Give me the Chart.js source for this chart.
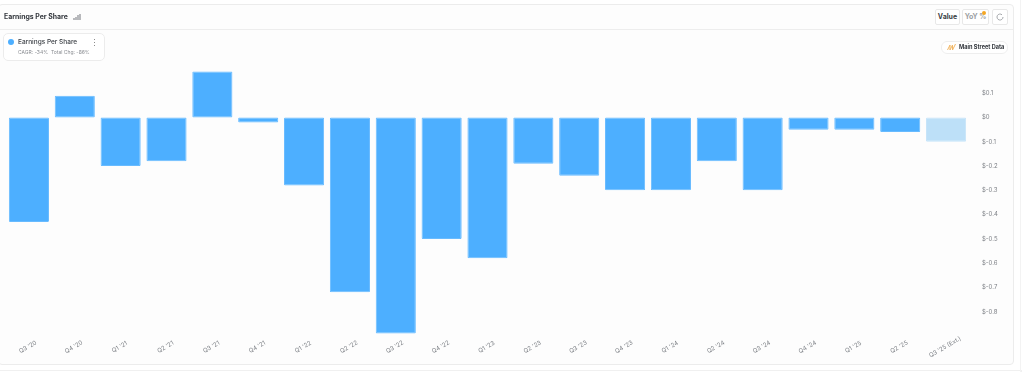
<!DOCTYPE html>
<html lang="en">
<head>
<meta charset="utf-8" />
<title>Earnings Per Share</title>
<script src="https://cdn.jsdelivr.net/npm/chart.js@4"></script>
<style>
    html, body { margin: 0; padding: 0; background: #fff; }
    body { width: 1024px; height: 372px; overflow: hidden; position: relative; font-family: Inter, "Liberation Sans", sans-serif; }
    #card { position: absolute; left: -2px; top: 4px; width: 1014px; height: 359px; background: #fdfdfd; border: 1px solid #ececec; border-radius: 4px; }
    #divider { position: absolute; left: 0; top: 29px; width: 1013px; height: 1px; background: #ededed; }
    #next { position: absolute; left: -2px; top: 370px; width: 1022px; height: 10px; border: 1px solid #f0f0f0; }
    #side { position: absolute; left: 1020px; top: 0; width: 1px; height: 372px; background: #f3f3f3; }
    #canvas { position: absolute; left: 0; top: 0; }
    .abs { position: absolute; white-space: nowrap; }
    #title { left: 4px; top: 12px; font-size: 6.9px; font-weight: 700; color: #33373d; }
    #titleIcon { left: 73px; top: 13px; }
    #legend { left: 3px; top: 33px; width: 100px; height: 26px; background: #fff; border: 1px solid #ececec; border-radius: 5px; }
    #dot { left: 4px; top: 5px; width: 6px; height: 6px; border-radius: 50%; background: #4dafff; }
    #legName { left: 14px; top: 4px; font-size: 6.5px; font-weight: 500; color: #3c4046; }
    #legSub { left: 14px; top: 15px; font-size: 5px; color: #8a8d92; }
    .menuDot { left: 90px; width: 1.4px; height: 1.4px; border-radius: 50%; background: #666; }
    .btn { top: 9px; height: 14px; line-height: 14px; text-align: center; border: 1px solid #e8e8e8; border-radius: 2px; font-size: 7px; font-weight: 700; background: #fff; }
    #btnValue { left: 935px; width: 23px; color: #3b3f45; }
    #btnYoy { left: 962px; width: 25px; color: #9a9da1; }
    #btnRef { left: 992px; width: 14px; }
    #yoyDot { left: 982px; top: 11px; width: 4px; height: 4px; border-radius: 50%; background: #f5a623; }
    #refIcon { left: 995px; top: 12px; }
    #badge { left: 941px; top: 41px; width: 65px; height: 11px; line-height: 11px; border: 1px solid #eeeeee; border-radius: 6px; background: #fff; font-size: 5.6px; font-weight: 700; color: #33373d; text-indent: 17px; }
    #badgeIcon { left: 947px; top: 43px; }
</style>
</head>
<body>
<div id="card"></div>
<div id="divider"></div>
<div id="next"></div>
<div id="side"></div>
<canvas id="canvas" width="1024" height="372"></canvas>
<div class="abs" id="title">Earnings Per Share</div>
<svg class="abs" id="titleIcon" width="8" height="8" viewBox="0 0 8 8"><path d="M1 7V5M3 7V4M5 7V2M7 7V1" stroke="#8a8d92" stroke-width="1.2" fill="none"/></svg>
<div class="abs" id="legend">
    <div class="abs" id="dot"></div>
    <div class="abs" id="legName">Earnings Per Share</div>
    <div class="abs" id="legSub">CAGR: -34% &nbsp;Total Chg: -86%</div>
    <div class="abs menuDot" style="top:5px"></div>
    <div class="abs menuDot" style="top:8px"></div>
    <div class="abs menuDot" style="top:11px"></div>
</div>
<div class="abs btn" id="btnValue">Value</div>
<div class="abs btn" id="btnYoy">YoY %</div>
<div class="abs" id="yoyDot"></div>
<div class="abs btn" id="btnRef"></div>
<svg class="abs" id="refIcon" width="10" height="10" viewBox="0 0 10 10"><path d="M8 5a3 3 0 1 1-1-2.2" stroke="#9a9da1" stroke-width="0.9" fill="none"/></svg>
<div class="abs" id="badge">Main Street Data</div>
<svg class="abs" id="badgeIcon" width="9" height="8" viewBox="0 0 9 8"><path d="M0.5 7L3 2V7L5.5 2V7L8.5 1" stroke="#f2b765" stroke-width="1" fill="none"/></svg>

<script>
    const quarters = ["Q3 '20", "Q4 '20", "Q1 '21", "Q2 '21", "Q3 '21", "Q4 '21", "Q1 '22", "Q2 '22", "Q3 '22", "Q4 '22", "Q1 '23", "Q2 '23", "Q3 '23", "Q4 '23", "Q1 '24", "Q2 '24", "Q3 '24", "Q4 '24", "Q1 '25", "Q2 '25", "Q3 '25 (Ext.)"];
    const eps = [-0.43, 0.09, -0.20, -0.18, 0.19, -0.02, -0.28, -0.72, -0.89, -0.50, -0.58, -0.19, -0.24, -0.30, -0.30, -0.18, -0.30, -0.05, -0.05, -0.06, -0.10];
    const barColors = eps.map((v, i) => i === eps.length - 1 ? '#bde0f8' : '#4dafff');
    const barEdges = eps.map((v, i) => i === eps.length - 1 ? '#c6e4f9' : '#68bbff');

    // x labels are centred on their bar, which the native rotated ticks can't do
    const centeredLabels = {
        id: 'centeredLabels',
        afterDraw(chart) {
            const { ctx, scales: { x } } = chart;
            ctx.save();
            ctx.font = '6px Inter';
            ctx.fillStyle = '#7d8086';
            ctx.textAlign = 'center';
            ctx.textBaseline = 'middle';
            quarters.forEach((q, i) => {
                ctx.save();
                ctx.translate(x.getPixelForTick(i) - 1, 347);
                ctx.rotate(-30 * Math.PI / 180);
                ctx.fillText(q, 0, 0);
                ctx.restore();
            });
            ctx.restore();
        }
    };

    new Chart(document.getElementById('canvas').getContext('2d'), {
        type: 'bar',
        data: {
            labels: quarters,
            datasets: [{
                label: 'Earnings Per Share',
                data: eps,
                backgroundColor: barColors,
                borderColor: barEdges,
                borderWidth: 1,
                borderRadius: 1,
                borderSkipped: false,
                barPercentage: 0.875,
                categoryPercentage: 1
            }]
        },
        options: {
            responsive: false,
            animation: false,
            layout: { padding: { left: 6, top: 69, right: 0, bottom: 0 } },
            plugins: { legend: { display: false }, tooltip: { enabled: false } },
            scales: {
                x: {
                    grid: { display: false },
                    border: { display: false },
                    ticks: { display: false },
                    afterFit: (s) => { s.height = 36; }
                },
                y: {
                    position: 'right',
                    min: -0.9,
                    max: 0.2,
                    grid: { display: false },
                    border: { display: false },
                    afterFit: (s) => { s.width = 55; },
                    ticks: {
                        stepSize: 0.1,
                        padding: 5,
                        color: '#7d8086',
                        font: { size: 6, family: 'Inter' },
                        callback: (v) => {
                            const r = Math.round(v * 10) / 10;
                            if (r === 0.2 || r === -0.9) return '';
                            return r < 0 ? '$-' + Math.abs(r) : '$' + r;
                        }
                    }
                }
            }
        },
        plugins: [centeredLabels]
    });
</script>
</body>
</html>
